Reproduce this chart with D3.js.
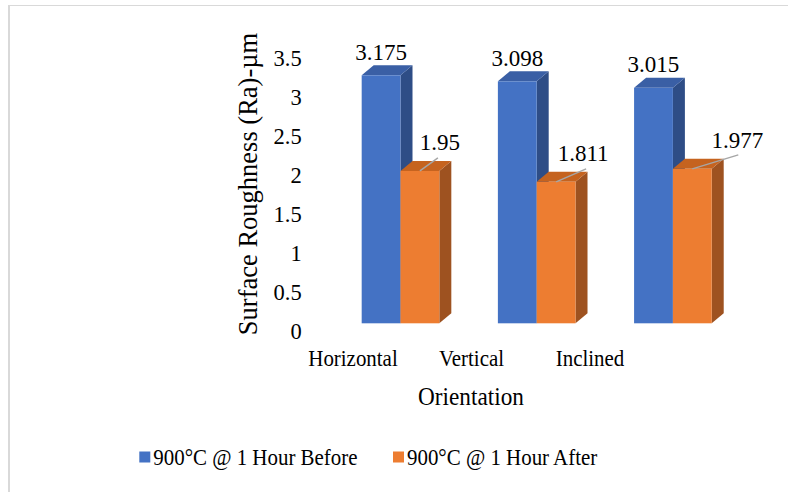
<!DOCTYPE html>
<html>
<head>
<meta charset="utf-8">
<script src="https://cdn.jsdelivr.net/npm/d3@7"></script>
<style>
  body { margin: 0; background: #fff; }
  svg { display: block; font-family: "Liberation Serif", "Times New Roman", serif; }
</style>
</head>
<body>
<div id="chart"></div>
<script>
// Surface roughness before / after heat treatment, 3D clustered columns
const categories = ["Horizontal", "Vertical", "Inclined"];
const series = ["900°C @ 1 Hour Before", "900°C @ 1 Hour After"];
const before = [3.175, 3.098, 3.015];
const after = [1.95, 1.811, 1.977];
const yTicks = [0, 0.5, 1, 1.5, 2, 2.5, 3, 3.5];

const width = 788, height = 492;
const depth = { dx: 12, dy: -10 };

const colors = [
  { front: "#4472C4", top: "#3A5FA5", side: "#2E4D86" },
  { front: "#ED7D31", top: "#C5631F", side: "#9E5220" },
];

const svg = d3.select("#chart").append("svg")
  .attr("width", width)
  .attr("height", height);

svg.append("rect").attr("width", width).attr("height", height).attr("fill", "#fff");

// thin frame (only top and left visible in the crop)
svg.append("line").attr("x1", 9).attr("x2", width).attr("y1", 5.5).attr("y2", 5.5)
  .attr("stroke", "#d9d9d9").attr("stroke-width", 1);
svg.append("line").attr("x1", 9).attr("x2", 9).attr("y1", 5).attr("y2", height)
  .attr("stroke", "#d9d9d9").attr("stroke-width", 2);

const y = d3.scaleLinear().domain([0, 3.5]).range([323.3, 49.9]);

const x = d3.scaleBand()
  .domain(categories)
  .range([332.4, 741])
  .paddingInner(0.43)
  .paddingOuter(0.215);

const xs = d3.scaleBand().domain(series).range([0, x.bandwidth()]);

// category labels sit on the front edge of the floor
const xLabel = d3.scalePoint().domain(categories).range([353, 590]);

// text placed at (px, py), squeezed a little horizontally like the original
const label = (g, px, py, size, sx, anchor, txt) =>
  g.append("text")
    .attr("transform", `translate(${px},${py}) scale(${sx},1)`)
    .attr("dy", "0.34em")
    .attr("text-anchor", anchor)
    .attr("font-size", size)
    .text(txt);

// y tick labels (drawn on the back wall, a bit lower than the front plane)
const yAxis = svg.append("g");
yTicks.forEach((t) => label(yAxis, 301.7, y(t) + 8.5, 22.5, 1, "end", t));

svg.append("text")
  .attr("transform", "translate(257,184) rotate(-90)")
  .attr("text-anchor", "middle")
  .attr("font-size", 26.5)
  .text("Surface Roughness (Ra)-µm");

const rows = categories.map((c, i) => ({ cat: c, values: [before[i], after[i]] }));

const bar3d = (g, x0, w, v, c) => {
  const y0 = y(0), y1 = y(v), x1 = x0 + w;
  const { dx, dy } = depth;
  g.append("path")
    .attr("d", `M${x1},${y1}L${x1 + dx},${y1 + dy}L${x1 + dx},${y0 + dy}L${x1},${y0}Z`)
    .attr("fill", c.side);
  g.append("path")
    .attr("d", `M${x0},${y1}L${x0 + dx},${y1 + dy}L${x1 + dx},${y1 + dy}L${x1},${y1}Z`)
    .attr("fill", c.top);
  g.append("rect")
    .attr("x", x0).attr("y", y1)
    .attr("width", w).attr("height", y0 - y1)
    .attr("fill", c.front);
};

const bars = svg.append("g");
rows.forEach((r) => {
  r.values.forEach((v, j) => {
    bar3d(bars, x(r.cat) + xs(series[j]), xs.bandwidth(), v, colors[j]);
  });
});

// data labels; the "after" labels were dragged aside and have leader lines
const afterShift = [
  { lx: 20, ly: -29, bx: 18, by: -13 },
  { lx: 27, ly: -29, bx: 30, by: -13 },
  { lx: 45, ly: -29, bx: 46, by: -14 },
];

const labels = svg.append("g");
rows.forEach((r, i) => {
  const bx = x(r.cat) + xs(series[0]) + xs.bandwidth() / 2;
  label(labels, bx, y(r.values[0]) - 23.5, 23, 1, "middle", r.values[0]);

  const ox = x(r.cat) + xs(series[1]) + xs.bandwidth() / 2;
  const oy = y(r.values[1]);
  const s = afterShift[i];
  labels.append("line")
    .attr("x1", ox).attr("y1", oy)
    .attr("x2", ox + s.bx).attr("y2", oy + s.by)
    .attr("stroke", "#a6a6a6").attr("stroke-width", 1.5);
  label(labels, ox + s.lx, oy + s.ly, 23, 1, "middle", r.values[1]);
});

const xAxis = svg.append("g");
categories.forEach((c) => label(xAxis, xLabel(c), 358, 23, 0.91, "middle", c));

label(svg, 471, 396, 25, 0.93, "middle", "Orientation");

// legend
const legendX = [139.3, 393];
series.forEach((s, i) => {
  const g = svg.append("g").attr("transform", `translate(${legendX[i]},457)`);
  g.append("rect")
    .attr("x", 0).attr("y", -5.5)
    .attr("width", 11).attr("height", 11)
    .attr("fill", colors[i].front);
  label(g, 14, 0, 23, 0.91, "start", s);
});
</script>
</body>
</html>
